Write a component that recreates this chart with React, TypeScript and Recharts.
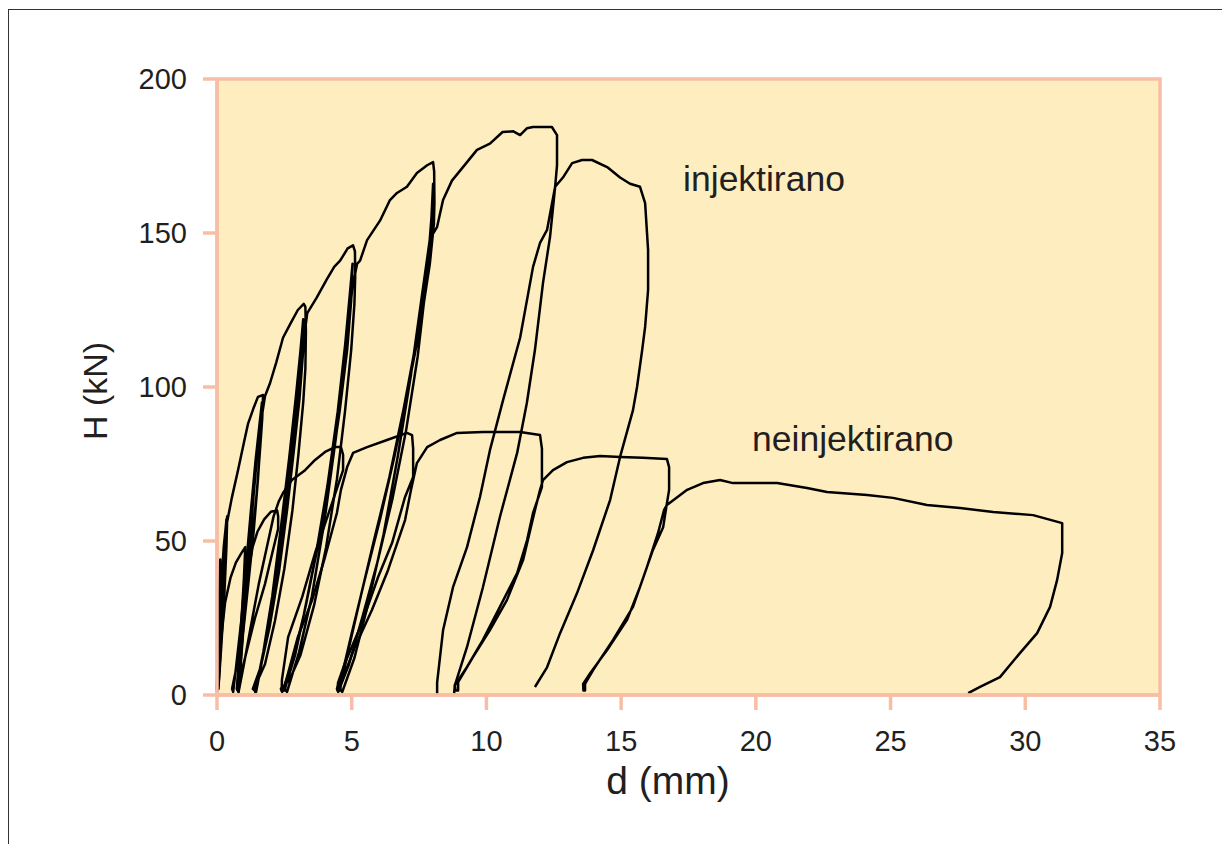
import React from 'react';
import {
  LineChart,
  Line,
  XAxis,
  YAxis,
  CartesianGrid,
  ReferenceArea,
  ReferenceDot,
  Label,
} from 'recharts';

const injektirano: [number, number | null][] = [
  [0, 2], [0.03, 18], [0.08, 32], [0.12, 44], [0.1, 30], [0.05, 12], [0.02, 3],
  [0.08, 20], [0.16, 36], [0.25, 48], [0.33, 55], [0.38, 58],
  [0.35, 48], [0.27, 32], [0.16, 16], [0.06, 3],
  [0.12, 22], [0.2, 38], [0.28, 50], [0.35, 57],
  [0.3, 42], [0.2, 24], [0.1, 8], [0.04, 2],
  [0.1, 22], [0.2, 40], [0.35, 55], [0.55, 64], [0.78, 73], [1.0, 82], [1.15, 88], [1.35, 93], [1.52, 96.8], [1.71, 97.4],
  [1.68, 90], [1.6, 80], [1.48, 66], [1.3, 50], [1.1, 33], [0.88, 18], [0.7, 8], [0.56, 2],
  [0.6, 1], [0.72, 10], [0.9, 24], [1.08, 42], [1.26, 60], [1.43, 76], [1.58, 88], [1.67, 95],
  [1.64, 86], [1.52, 70], [1.36, 53], [1.16, 36], [0.98, 21], [0.84, 10], [0.74, 2],
  [0.8, 1], [0.95, 18], [1.15, 42], [1.35, 64], [1.55, 84], [1.78, 97], [1.97, 101.3], [2.2, 108], [2.45, 116], [2.75, 121], [3.0, 125], [3.22, 127], [3.28, 126],
  [3.3, 118], [3.28, 106], [3.2, 95], [3.02, 78], [2.8, 60], [2.5, 41], [2.15, 24], [1.78, 10], [1.37, 2],
  [1.42, 1], [1.72, 14], [2.05, 32], [2.38, 55], [2.68, 77], [2.93, 97], [3.1, 112], [3.2, 122],
  [3.2, 112], [3.06, 96], [2.86, 80], [2.6, 60], [2.3, 40], [1.95, 22], [1.62, 9], [1.33, 2],
  [1.45, 1], [1.78, 16], [2.15, 36], [2.52, 60], [2.85, 85], [3.1, 106], [3.26, 118], [3.35, 124], [3.7, 129], [4.08, 135], [4.35, 139], [4.57, 141], [4.85, 145], [5.05, 146], [5.12, 144],
  [5.13, 136], [5.1, 127], [4.98, 112], [4.75, 92], [4.45, 70], [4.05, 48], [3.6, 29], [3.1, 13], [2.7, 5], [2.37, 2],
  [2.42, 1], [2.78, 10], [3.22, 26], [3.68, 46], [4.1, 68], [4.48, 92], [4.76, 114], [4.95, 132], [5.03, 140],
  [4.98, 128], [4.83, 112], [4.55, 92], [4.18, 70], [3.78, 50], [3.32, 30], [2.9, 13], [2.52, 2],
  [2.6, 1], [3.05, 14], [3.52, 32], [3.98, 56], [4.42, 84], [4.76, 110], [5.02, 132], [5.2, 140], [5.31, 141], [5.57, 147.7], [6.05, 154], [6.42, 160.7], [6.68, 163], [7.05, 165], [7.42, 169.5], [7.8, 172], [8.02, 173], [8.06, 170],
  [8.07, 160], [8.05, 153], [7.9, 140], [7.55, 120], [7.1, 100], [6.6, 78], [6.05, 57], [5.5, 38], [5.0, 20], [4.65, 7], [4.45, 2],
  [4.5, 1], [4.9, 10], [5.42, 26], [5.98, 44], [6.52, 64], [7.02, 86], [7.45, 110], [7.78, 135], [7.96, 155], [8.02, 166],
  [7.98, 152], [7.78, 136], [7.4, 115], [6.93, 93], [6.38, 70], [5.82, 50], [5.28, 30], [4.86, 14], [4.57, 2],
  [4.65, 1], [5.1, 12], [5.62, 30], [6.18, 52], [6.72, 78], [7.2, 104], [7.58, 128], [7.9, 148], [8.17, 152], [8.39, 160.7], [8.72, 167], [9.13, 171.4], [9.65, 177], [10.13, 179], [10.6, 182.8], [11.0, 183], [11.25, 181.8], [11.5, 184], [11.73, 184.4], [12.43, 184.4], [12.62, 181.8],
  [12.62, 172], [12.55, 165], [12.36, 148.7], [12.1, 133.8], [11.8, 112], [11.5, 94.8], [11.14, 78.6], [10.5, 57.8], [9.87, 35], [9.28, 15.6], [8.83, 3.2], [8.8, 0.5],
  [8.5, null],
  [8.17, 0.5], [8.17, 4], [8.39, 21], [8.76, 35], [9.28, 48], [9.76, 64.3], [10.13, 79.5], [10.62, 95.8], [11.25, 116], [11.73, 139], [11.99, 146.8], [12.25, 151], [12.55, 165],
  [12.84, 168], [13.18, 172.7], [13.55, 173.7], [13.92, 173.7], [14.48, 171.4], [14.96, 168], [15.33, 166], [15.7, 165], [15.89, 159.7], [16.0, 144.5], [16.0, 131.5], [15.89, 119.5], [15.78, 112], [15.59, 100], [15.44, 92.5], [14.96, 77.3], [14.59, 63.3], [13.96, 47], [13.36, 33], [12.73, 20], [12.25, 9], [11.8, 2.6],
];

const neinjektirano: [number, number | null][] = [
  [0, 1], [0.04, 16], [0.1, 30], [0.18, 38], [0.28, 43],
  [0.22, 30], [0.12, 14], [0.05, 2],
  [0.15, 18], [0.3, 30], [0.5, 38], [0.7, 43], [0.9, 46], [1.05, 48],
  [1.0, 38], [0.92, 26], [0.83, 14], [0.74, 2],
  [0.8, 1], [0.92, 16], [1.05, 30], [1.18, 41], [1.32, 48], [1.5, 53], [1.75, 57], [2.0, 59.5], [2.23, 60], [2.27, 58],
  [2.27, 54], [2.05, 46], [1.78, 36], [1.41, 25], [1.04, 12], [0.74, 2],
  [0.8, 1], [1.0, 10], [1.25, 22], [1.55, 36], [1.85, 48], [2.1, 58], [2.3, 63], [2.45, 65.6], [2.78, 69.8], [3.27, 73], [3.64, 76.3], [4.01, 78.9], [4.38, 80.5], [4.6, 80.5], [4.68, 78],
  [4.68, 73], [4.27, 62.3], [3.64, 46.1], [3.16, 31.8], [2.64, 18.8], [2.41, 4.9], [2.4, 1.5],
  [2.52, 1.5], [2.52, 3.2], [3.0, 18.8], [3.53, 30.8], [4.01, 44.8], [4.45, 59.1], [4.6, 66.6], [4.83, 74], [5.05, 78.6], [5.57, 80.5], [6.31, 82.8], [7.05, 85.1], [7.24, 84.4], [7.28, 80],
  [7.28, 70.8], [6.98, 64.3], [6.5, 49.4], [5.98, 38.3], [5.38, 23.4], [4.75, 10.4], [4.49, 3.9], [4.48, 1.5],
  [4.57, 1.5], [4.57, 3.2], [5.12, 15.6], [5.75, 27.6], [6.35, 40.6], [6.98, 56.8], [7.2, 66.6], [7.42, 75.3], [7.8, 80.5], [8.28, 82.8], [8.91, 85.1], [9.87, 85.4], [11.25, 85.4], [11.99, 84.4], [12.06, 80],
  [12.06, 67.5], [11.73, 59.1], [11.51, 50.3], [11.14, 39.6], [10.5, 28.6], [9.87, 17.9], [9.28, 9.1], [8.83, 3.2], [8.85, 1.5],
  [8.95, 1.5], [8.95, 4.2], [9.5, 12.3], [10.13, 21.1], [10.76, 30.8], [11.36, 43.8], [11.8, 60], [11.99, 66.6], [12.1, 69.8], [12.47, 73], [12.99, 75.6], [13.59, 77], [14.22, 77.6], [14.96, 77.3], [15.81, 77], [16.7, 76.6], [16.78, 74],
  [16.78, 66.6], [16.7, 62.3], [16.56, 54.5], [16.18, 47.1], [15.7, 35.1], [15.22, 24.4], [14.48, 14.6], [13.85, 7.1], [13.59, 3.6], [13.6, 1.5],
  [13.66, 1.5], [13.66, 3.6], [13.96, 8.1], [14.7, 17.9], [15.44, 28.6], [15.96, 41.6], [16.37, 52.6], [16.59, 60], [16.7, 61.7], [17.45, 66.6], [18.04, 68.8], [18.67, 69.8], [19.15, 68.8], [20.79, 68.8], [21.9, 67.2], [22.64, 65.9], [24.13, 64.9], [25.09, 64], [26.35, 61.7], [27.58, 60.7], [28.81, 59.4], [30.29, 58.4], [31.37, 55.8],
  [31.37, 46.1], [31.18, 37.3], [30.92, 28.6], [30.44, 20.1], [29.8, 13.6], [29.06, 5.8], [28.32, 2.6], [27.88, 0.6],
];

const dTicks = [0, 5, 10, 15, 20, 25, 30, 35];
const hTicks = [0, 50, 100, 150, 200];

const SALMON = '#F8BEA5';
const PLOT_BG = '#FEEDBF';
const INK = '#231F20';
const FONT = '"Liberation Sans", Arial, Helvetica, sans-serif';

const injData = injektirano.map(([d, H]) => ({ d, H }));
const neinjData = neinjektirano.map(([d, H]) => ({ d, H }));

const tickStyle = { fontSize: 29, fill: INK, fontFamily: FONT };

const App: React.FC = () => {
  return (
    <div
      style={{
        width: 1222,
        height: 836,
        marginTop: 1,
        borderTop: '1.5px solid #333',
        borderLeft: '1.5px solid #333',
        boxSizing: 'border-box',
        overflow: 'hidden',
        background: '#fff',
      }}
    >
      <LineChart
        width={1213}
        height={826}
        margin={{ top: 69, right: 62, left: 0, bottom: 41 }}
      >
        <CartesianGrid horizontal={false} vertical={false} fill={PLOT_BG} />
        <XAxis
          type="number"
          dataKey="d"
          domain={[0, 35]}
          ticks={dTicks}
          interval={0}
          height={100}
          stroke={SALMON}
          strokeWidth={3.5}
          tickSize={15}
          tickMargin={20}
          tickLine={{ stroke: SALMON, strokeWidth: 3.5 }}
          tick={tickStyle}
        >
          <Label
            content={() => (
              <text x={659} y={784} textAnchor="middle" fontSize={39} fill={INK} fontFamily={FONT}>
                d (mm)
              </text>
            )}
          />
        </XAxis>
        <YAxis
          type="number"
          domain={[0, 200]}
          ticks={hTicks}
          interval={0}
          width={208}
          stroke={SALMON}
          strokeWidth={3.5}
          tickSize={14}
          tickMargin={16}
          tickLine={{ stroke: SALMON, strokeWidth: 3.5 }}
          tick={tickStyle}
        >
          <Label
            content={() => (
              <text
                x={98}
                y={381}
                transform="rotate(-90 98 381)"
                textAnchor="middle"
                fontSize={34}
                fill={INK}
                fontFamily={FONT}
              >
                H (kN)
              </text>
            )}
          />
        </YAxis>
        <ReferenceArea x1={0} x2={35} y1={0} y2={200} fill="none" stroke={SALMON} strokeWidth={3.5} />
        <Line
          data={injData}
          dataKey="H"
          type="linear"
          stroke="#000"
          strokeWidth={2.5}
          strokeLinejoin="round"
          connectNulls={false}
          dot={false}
          activeDot={false}
          isAnimationActive={false}
        />
        <Line
          data={neinjData}
          dataKey="H"
          type="linear"
          stroke="#000"
          strokeWidth={2.5}
          strokeLinejoin="round"
          connectNulls={false}
          dot={false}
          activeDot={false}
          isAnimationActive={false}
        />
        <ReferenceDot
          x={17.3}
          y={163.6}
          r={0}
          shape={(p: any) => (
            <text x={p.cx} y={p.cy} fontSize={35.5} fill={INK} fontFamily={FONT}>
              injektirano
            </text>
          )}
        />
        <ReferenceDot
          x={19.86}
          y={79.2}
          r={0}
          shape={(p: any) => (
            <text x={p.cx} y={p.cy} fontSize={35.5} fill={INK} fontFamily={FONT}>
              neinjektirano
            </text>
          )}
        />
      </LineChart>
    </div>
  );
};

export default App;
